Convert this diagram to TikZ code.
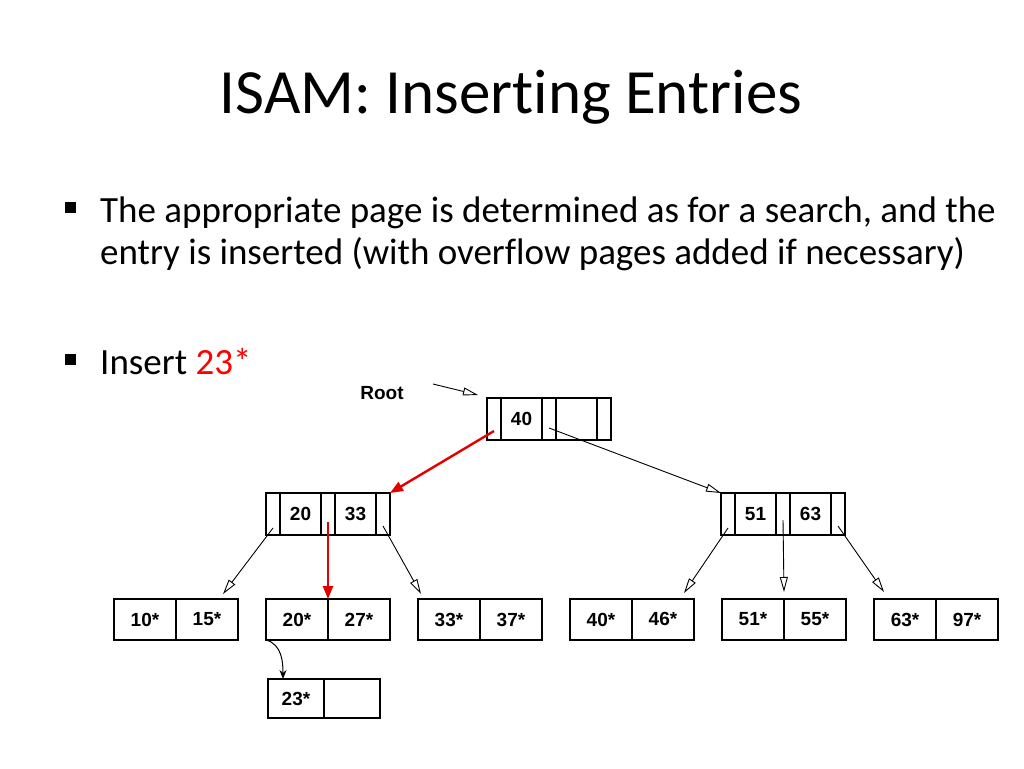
\documentclass[tikz,border=0pt]{standalone}
\usepackage{fontspec}
\setmainfont{Carlito}[RawFeature={-liga}]
\newfontfamily\arialfont{Liberation Sans}
\usetikzlibrary{positioning, arrows.meta}

\tikzset{
  cell/.style={draw, line width=1.2pt, minimum height=42pt, inner sep=0pt, outer sep=0pt,
    font=\arialfont\bfseries\fontsize{19}{19}\selectfont},
  ptrcell/.style={cell, minimum width=14pt},
  keycell/.style={cell, minimum width=41pt},
  leafcell/.style={cell, minimum width=62pt, minimum height=41pt},
  link/.style={-{Triangle[open, length=15pt, width=8pt]}, line width=0.9pt},
  hot/.style={-{Triangle[length=13pt, width=10pt]}, red!90!black, line width=2.4pt},
  bullet/.style={fill, minimum size=11pt, inner sep=0pt},
  body/.style={anchor=base west, inner sep=0pt, font=\fontsize{37}{42}\selectfont},
}

% index page: pointer, key, pointer, key, pointer
\newcommand\idxpage[5]{%
  \node[ptrcell] (#1p0) at (#2,#3) {};
  \node[keycell] (#1k1) [right=0pt of #1p0] {#4};
  \node[ptrcell] (#1p1) [right=0pt of #1k1] {};
  \node[keycell] (#1k2) [right=0pt of #1p1] {#5};
  \node[ptrcell] (#1p2) [right=0pt of #1k2] {};
}
% leaf page: two entries
\newcommand\leafpage[5]{%
  \node[leafcell] (#1a) at (#2,#3) {#4};
  \node[leafcell] (#1b) [right=0pt of #1a] {#5};
}

\begin{document}
\begin{tikzpicture}[x=1pt, y=-1pt]
  \useasboundingbox (0,0) rectangle (1024,768);

  % title and bullets
  \node (title) at (511,97) {\fontsize{63}{63}\selectfont ISAM: Inserting Entries};
  \node[bullet] (dot1) at (70,207) {};
  \node[body] (txt1) at (100,222) {The appropriate page is determined as for a search, and the};
  \node[body] (txt1b) at (100,264) {entry is inserted (with overflow pages added if necessary)};
  \node[bullet] (dot2) at (70,359) {};
  \node[body] (txt2) at (100,374) {Insert \textcolor{red}{23*}};

  % tree
  \idxpage{root}{494}{419}{40}{}
  \idxpage{left}{273}{514}{20}{33}
  \idxpage{right}{728}{514}{51}{63}

  \leafpage{la}{145}{619.5}{10*}{15*}
  \leafpage{lb}{297}{619.5}{20*}{27*}
  \leafpage{lc}{449}{619.5}{33*}{37*}
  \leafpage{ld}{601}{619.5}{40*}{\raisebox{2pt}{46*}}
  \leafpage{le}{753}{619.5}{51*}{\raisebox{2pt}{55*}}
  \leafpage{lf}{905}{619.5}{\raisebox{-2pt}{63*}}{97*}
  \node[leafcell, minimum width=56pt, minimum height=39pt] (ova) at (296,698.5) {23*};
  \node[leafcell, minimum width=56pt, minimum height=39pt] (ovb) [right=0pt of ova] {};

  \node[font=\arialfont\bfseries\fontsize{19}{19}\selectfont] (rootlbl) at (382,393) {Root};
  \coordinate (rootin) at (433,384);
  \draw[link] (rootin) -- ([xshift=-9pt,yshift=3pt]rootp0.north west);

  \draw[hot] ([yshift=-12pt]rootp0.center) -- (leftp2.north east);
  \draw[link] ([yshift=-9pt]rootp1.center) -- (rightp0.north west);

  \draw[link] ([yshift=-14pt]leftp0.center) -- ([xshift=-15pt,yshift=5pt]lab.north east);
  \draw[hot] ([yshift=-8pt]leftp1.center) -- (lba.north east);
  \draw[link] ([yshift=-12pt]leftp2.center) -- ([xshift=3pt,yshift=5pt]lca.north west);

  \draw[link] ([yshift=-14pt]rightp0.center) -- ([xshift=-10pt,yshift=6pt]ldb.north east);
  \draw[link] ([yshift=-6pt]rightp1.center) -- ([yshift=7pt]lea.north east);
  \draw[link] ([yshift=-12pt]rightp2.center) -- ([xshift=10pt,yshift=7pt]lfa.north west);

  \draw[-{Stealth[length=9pt, width=7pt]}, line width=1pt] (lba.south west) to[out=-15, in=90] ([xshift=15pt]ova.north west);
\end{tikzpicture}
\end{document}
